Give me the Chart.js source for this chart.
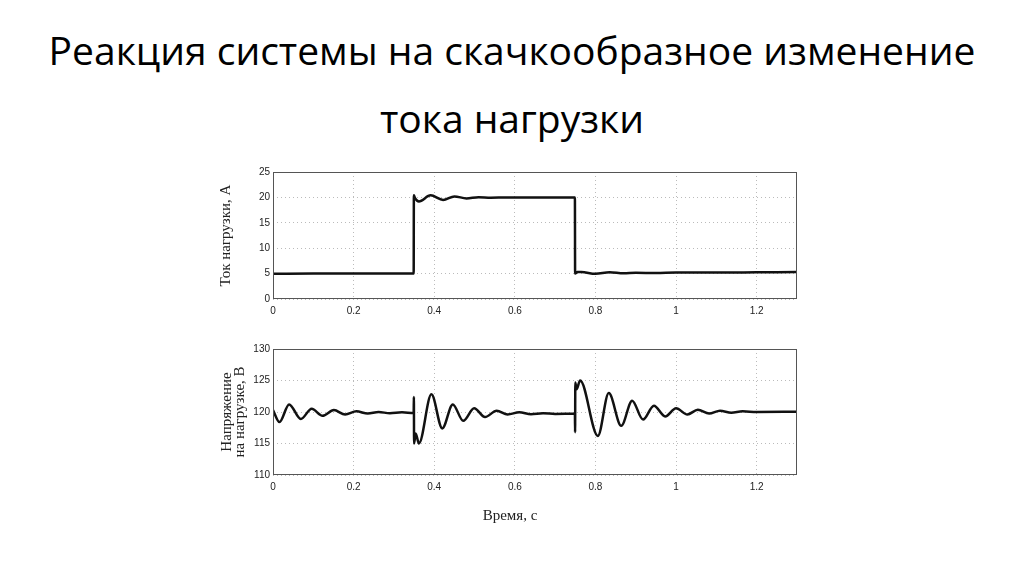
<!DOCTYPE html>
<html>
<head>
<meta charset="utf-8">
<script src="https://cdn.jsdelivr.net/npm/chart.js@4.4.1/dist/chart.umd.min.js"></script>
<style>
  body { margin: 0; background: #fff; width: 1024px; height: 574px; overflow: hidden; position: relative; }
  h1 {
    position: absolute; left: 0; top: 16px; width: 1024px; margin: 0;
    font-family: "Open Sans", "Noto Sans", sans-serif; font-weight: 500;
    font-size: 39px; line-height: 68px; text-align: center; color: #000;
  }
  .plot { position: absolute; left: 200px; width: 620px; }
  #chart1 { top: 160px; height: 170px; }
  #chart2 { top: 335px; height: 200px; }
</style>
</head>
<body>
<h1>Реакция системы на скачкообразное изменение<br>тока нагрузки</h1>
<div class="plot" id="chart1"><canvas id="c1"></canvas></div>
<div class="plot" id="chart2"><canvas id="c2"></canvas></div>
<script>
// time axis ticks (seconds)
const timeTicks = [0, 0.2, 0.4, 0.6, 0.8, 1, 1.2];
const currentTicks = [0, 5, 10, 15, 20, 25];
const voltageTicks = [110, 115, 120, 125, 130];

// load current, A
const currentTime = [0, 0.1, 0.2, 0.3, 0.349, 0.3495, 0.352, 0.362, 0.391, 0.422, 0.45, 0.48, 0.51, 0.54, 0.58,
    0.62, 0.7, 0.749, 0.7495, 0.755, 0.765, 0.80, 0.835, 0.87, 0.9, 0.95, 1.0, 1.1, 1.2, 1.3];
const currentValues = [4.95, 5.0, 5.0, 5.0, 5.0, 20.4, 19.9, 19.2, 20.4, 19.5, 20.2, 19.8, 20.05, 19.95, 20.0,
    20.0, 20.0, 20.0, 5.0, 5.3, 5.3, 4.95, 5.25, 5.05, 5.15, 5.1, 5.2, 5.2, 5.25, 5.3];

// load voltage, V
const voltageTime = [0, 0.016, 0.040, 0.069, 0.096, 0.123, 0.151, 0.179, 0.207, 0.235, 0.262, 0.29, 0.32, 0.349,
    0.3495, 0.350, 0.354, 0.362, 0.393, 0.420, 0.446, 0.472, 0.499, 0.526, 0.555, 0.582, 0.611, 0.64, 0.67, 0.70,
    0.749, 0.7495, 0.750, 0.753, 0.762, 0.806, 0.833, 0.864, 0.891, 0.918, 0.945, 0.973, 1.0, 1.028, 1.054, 1.082,
    1.109, 1.137, 1.165, 1.2, 1.3];
const voltageValues = [120.3, 118.4, 121.2, 118.9, 120.5, 119.4, 120.3, 119.6, 120.1, 119.75, 120.0, 119.8, 119.95, 119.85,
    122.4, 115.0, 116.6, 115.0, 122.8, 117.4, 121.2, 118.6, 120.6, 119.2, 120.2, 119.6, 119.95, 119.65, 119.8, 119.7,
    119.75, 116.8, 124.7, 123.6, 125.0, 116.2, 123.0, 117.8, 121.8, 118.8, 121.0, 119.3, 120.6, 119.6, 120.35, 119.75,
    120.2, 119.9, 120.1, 120.0, 120.05];

const tickFont = { family: '"Liberation Sans Narrow", "Liberation Sans", Arial, sans-serif', size: 10 };
const labelFont = { family: '"Liberation Serif", "Times New Roman", serif', size: 15, weight: 'normal' };

// box around the plot area, like in Matlab figures
const frame = {
    id: 'frame',
    afterDraw(chart) {
        const a = chart.chartArea;
        const ctx = chart.ctx;
        ctx.save();
        ctx.setLineDash([]);
        ctx.strokeStyle = '#555';
        ctx.lineWidth = 1;
        ctx.strokeRect(a.left + 0.5, a.top + 0.5, a.right - a.left - 1, a.bottom - a.top - 1);
        ctx.restore();
    }
};

function makeChart(id, times, values, yTicks, yTitle, opts) {
    const points = times.map((t, i) => ({ x: t, y: values[i] }));
    return new Chart(document.getElementById(id), {
        type: 'line',
        data: {
            datasets: [{
                data: points,
                borderColor: '#111',
                borderWidth: 2.5,
                pointRadius: 0,
                cubicInterpolationMode: 'monotone',
                fill: false
            }]
        },
        plugins: [frame],
        options: {
            responsive: true,
            maintainAspectRatio: false,
            animation: false,
            layout: { padding: opts.padding },
            plugins: {
                legend: { display: false },
                tooltip: { enabled: false },
                title: opts.title
            },
            scales: {
                x: {
                    type: 'linear',
                    min: 0,
                    max: 1.3,
                    afterBuildTicks: s => { s.ticks = timeTicks.map(v => ({ value: v })); },
                    afterFit: s => { s.height = opts.xHeight; },
                    grid: { color: '#bbb', drawTicks: false, lineWidth: 1 },
                    border: { display: false, dash: [1, 3] },
                    ticks: {
                        font: tickFont, color: '#222', padding: 6, maxRotation: 0,
                        callback: v => String(+v.toFixed(2))
                    }
                },
                y: {
                    min: yTicks[0],
                    max: yTicks[yTicks.length - 1],
                    afterBuildTicks: s => { s.ticks = yTicks.map(v => ({ value: v })); },
                    afterFit: s => { s.width = opts.yWidth; },
                    grid: { color: '#bbb', drawTicks: false, lineWidth: 1 },
                    border: { display: false, dash: [1, 3] },
                    ticks: { font: tickFont, color: '#222', padding: 3 },
                    title: {
                        display: true,
                        text: yTitle,
                        font: Object.assign({}, labelFont, { lineHeight: opts.yLineHeight }),
                        color: '#222',
                        padding: { top: opts.yTitlePad, bottom: 0 }
                    }
                }
            }
        }
    });
}

makeChart('c1', currentTime, currentValues, currentTicks, 'Ток нагрузки, А', {
    padding: { left: 0, top: 12, right: 23, bottom: 0 },
    yWidth: 73, yTitlePad: 17, yLineHeight: 1.2, xHeight: 31,
    title: { display: false }
});

makeChart('c2', voltageTime, voltageValues, voltageTicks, ['Напряжение', 'на нагрузке, В'], {
    padding: { left: 23, top: 14, right: 23, bottom: 0 },
    yWidth: 50, yTitlePad: -2.75, yLineHeight: 0.9, xHeight: 32,
    title: {
        display: true,
        position: 'bottom',
        text: 'Время, с',
        font: labelFont,
        color: '#222',
        padding: { top: 0, bottom: 10 }
    }
});
</script>
</body>
</html>
